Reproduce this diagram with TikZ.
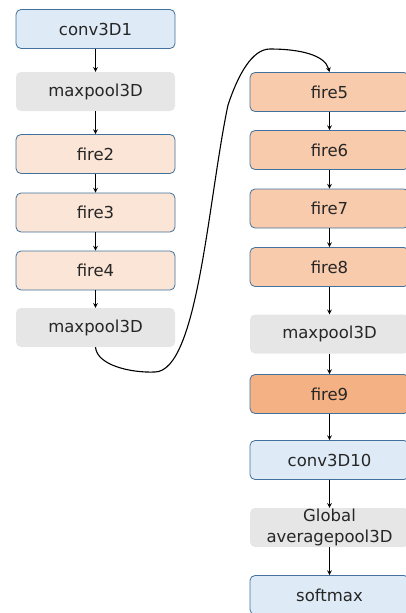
\documentclass[tikz,border=0pt]{standalone}
\usepackage{fontspec}
\setmainfont{DejaVu Sans}
\usetikzlibrary{positioning, arrows.meta}
\definecolor{boxline}{HTML}{41719C}
\definecolor{convfill}{HTML}{DEEBF7}
\definecolor{poolfill}{HTML}{E7E6E6}
\definecolor{firelight}{HTML}{FBE5D6}
\definecolor{firemid}{HTML}{F8CBAD}
\definecolor{firedark}{HTML}{F4B183}
\tikzset{
  layer/.style={rounded corners=5pt, minimum width=159pt, minimum height=39pt,
    inner sep=0pt, text=black!85, font=\fontsize{16.5}{21}\selectfont, align=center}
}
\tikzset{
  convbox/.style={layer, draw=boxline, thick, fill=convfill},
  poolbox/.style={layer, fill=poolfill},
  firea/.style={layer, draw=boxline, thick, fill=firelight},
  fireb/.style={layer, draw=boxline, thick, fill=firemid},
  firec/.style={layer, draw=boxline, thick, fill=firedark},
  link/.style={->, line width=1.1pt}
}

\begin{document}
\begin{tikzpicture}[>=stealth, x=1pt, y=-1pt]
      \useasboundingbox (0,0) rectangle (406,613);
      \clip (0,0) rectangle (406,613);
      % left column
      \node[convbox] (c1) at (95.5,29) {conv3D1};
      \node[poolbox] (mp1) at (95.5,91.5) {maxpool3D};
      \node[firea] (f2) at (95.5,154) {fire2};
      \node[firea] (f3) at (95.5,212.5) {fire3};
      \node[firea] (f4) at (95.5,270.5) {fire4};
      \node[poolbox] (mp2) at (95.5,327.5) {maxpool3D};
      % right column
      \node[fireb] (f5) at (329.5,92) {fire5};
      \node[fireb] (f6) at (329.5,150) {fire6};
      \node[fireb] (f7) at (329.5,208.5) {fire7};
      \node[fireb] (f8) at (329.5,267) {fire8};
      \node[poolbox] (mp3) at (329.5,334) {maxpool3D};
      \node[firec] (f9) at (329.5,394) {fire9};
      \node[convbox] (c10) at (329.5,460) {conv3D10};
      \node[poolbox] (gap) at (329.5,527.5) {Global\\averagepool3D};
      \node[convbox] (sm) at (329.5,595) {softmax};
      % straight links
      \draw[link] (c1) -- (mp1);
      \draw[link] (mp1) -- (f2);
      \draw[link] (f2) -- (f3);
      \draw[link] (f3) -- (f4);
      \draw[link] (f4) -- (mp2);
      \draw[link] (f5) -- (f6);
      \draw[link] (f6) -- (f7);
      \draw[link] (f7) -- (f8);
      \draw[link] (f8) -- (mp3);
      \draw[link] (mp3) -- (f9);
      \draw[link] (f9) -- (c10);
      \draw[link] (c10) -- (gap);
      \draw[link] (gap) -- (sm);
      % jump to second column
      \coordinate (low) at (155,372);
      \coordinate (rise) at (228,105);
      \coordinate (top) at (270,49);
      \draw[link] (mp2.south) .. controls (97,365) and (130,373) .. (low)
        .. controls (198,371) and (208,200) .. (rise)
        .. controls (238,75) and (252,49) .. (top)
        .. controls (300,49) and (325,55) .. (f5.north);
    \end{tikzpicture}
\end{document}
